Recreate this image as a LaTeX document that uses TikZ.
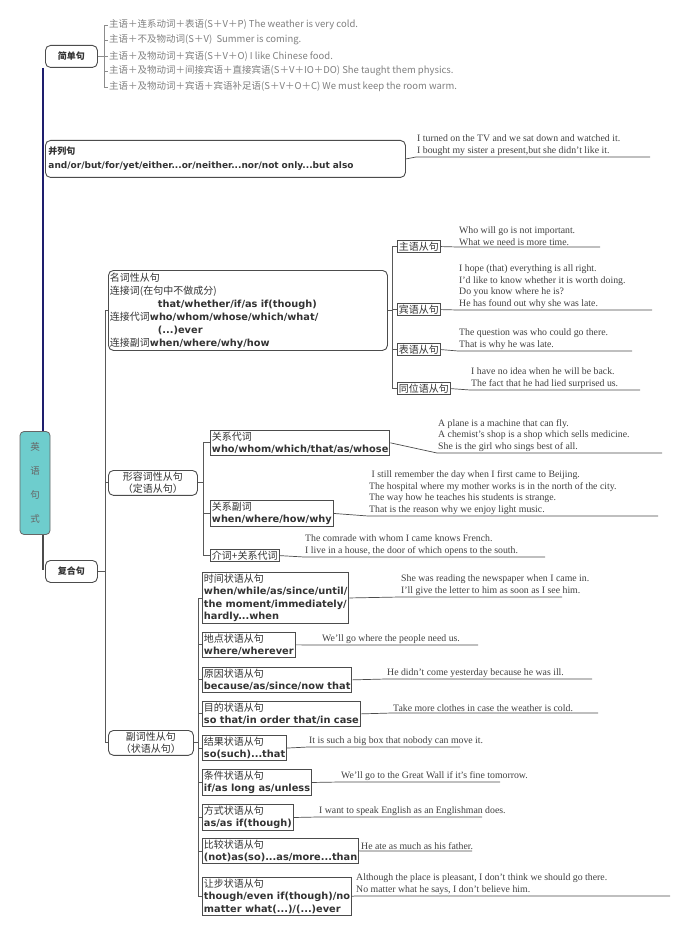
\documentclass[tikz,border=0pt]{standalone}
\usepackage{fontspec}
\setmainfont{Liberation Serif}
\setsansfont{DejaVu Sans}
\newfontfamily\cjk{Noto Sans CJK SC}
\begin{document}
\begin{tikzpicture}[x=1pt,y=-1pt,
  lbl/.style={font=\cjk\fontsize{10}{12.5}\selectfont, text=black!80, align=left, anchor=north west, inner sep=1.5pt},
  sq/.style={lbl, draw=black!70, line width=0.9pt},
  rd/.style={lbl, draw=black!70, line width=0.9pt, rounded corners=5pt},
  ex/.style={font=\fontsize{9.8}{11.8}\selectfont, text=black!75, align=left, anchor=south west, inner sep=1pt},
  gr/.style={font=\cjk\fontsize{9.5}{11}\selectfont, text=black!50, anchor=west, inner sep=1pt},
  ln/.style={draw=black!70, line width=0.7pt},
  sp/.style={draw=black!65, line width=0.9pt}]
\newcommand{\en}[1]{{\sffamily\bfseries\fontsize{9.8}{12.5}\selectfont #1}}
\useasboundingbox (0,0) rectangle (690,933);
\fill[white] (0,0) rectangle (690,933);
% root
\node[draw=black!60, line width=0.8pt, fill={rgb,255:red,110;green,205;blue,205}, rounded corners=4pt, minimum width=30pt, minimum height=103pt, align=center, font=\cjk\fontsize{9.5}{24}\selectfont, text=black!60] (root) at (35,483) {英\\语\\句\\式};
\coordinate (top) at (43,68);
\draw[draw={rgb,255:red,30;green,30;blue,110}, line width=1.6pt] (top) -- (top|-root.north);
\draw[draw=black!70, line width=1.2pt] (top|-root.south) -- (43,570);
% simple
\node[rd, font=\cjk\bfseries\fontsize{9}{10}\selectfont, minimum height=22pt, minimum width=52pt, align=center, anchor=north west] (jd) at (45,45) {简单句};
\node[gr] (s1) at (108,25) {主语＋连系动词＋表语(S＋V＋P) The weather is very cold.};
\node[gr] (s2) at (108,40) {主语＋不及物动词(S＋V)\ \ Summer is coming.};
\node[gr] (s3) at (108,56) {主语＋及物动词＋宾语(S＋V＋O) I like Chinese food.};
\node[gr] (s4) at (108,71) {主语＋及物动词＋间接宾语＋直接宾语(S＋V＋IO＋DO) She taught them physics.};
\node[gr] (s5) at (108,87) {主语＋及物动词＋宾语＋宾语补足语(S＋V＋O＋C) We must keep the room warm.};
\foreach \s in {s1,s2,s3,s4,s5} \draw[draw=black!45] (jd.east) -- ++(6,0) |- (\s.west);
% compound
\node[rd, minimum width=360pt, minimum height=37pt, text width=354pt, font=\sffamily\bfseries\fontsize{9}{14}\selectfont] (bl) at (45,140) {{\cjk 并列句}\\and/or/but/for/yet/either...or/neither...nor/not only...but also};
\node[ex] (bl1) at (416,157) {I turned on the TV and we sat down and watched it.\\I bought my sister a present,but she didn't like it.};
\coordinate (bl1e) at (650,157);
\draw[ln] (bl.east) -- (bl1.south west) -- (bl1e);
% complex
\node[rd, font=\cjk\bfseries\fontsize{9}{10}\selectfont, minimum height=22pt, minimum width=52pt, align=center] (fh) at (45,560) {复合句};
\node[rd, text width=276pt, minimum height=80pt, font=\cjk\fontsize{10}{13}\selectfont] (mc) at (108,270) {名词性从句\\连接词(在句中不做成分)\\\hspace*{48pt}\en{that/whether/if/as if(though)}\\连接代词\en{who/whom/whose/which/what/}\\\hspace*{48pt}\en{(...)ever}\\连接副词\en{when/where/why/how}};
\node[rd, text width=86pt, align=center] (xr) at (108,470) {形容词性从句\\（定语从句）};
\node[rd, text width=82pt, align=center] (fc) at (108,730) {副词性从句\\（状语从句）};
\foreach \n in {mc,xr,fc} \draw[sp] (fh.east) -- ++(8,0) |- (\n.west);
% noun clauses
\node[sq] (zy) at (397,240) {主语从句};
\node[sq] (by) at (397,303) {宾语从句};
\node[sq] (bi) at (397,343) {表语从句};
\node[sq] (tw) at (397,382) {同位语从句};
\foreach \n in {zy,by,bi,tw} \draw[sp] (mc.east) -- ++(5,0) |- (\n.west);
\node[ex] (e1) at (458,247) {Who will go is not important.\\What we need is more time.};
\node[ex] (e2) at (458,310) {I hope (that) everything is all right.\\I'd like to know whether it is worth doing.\\Do you know where he is?\\He has found out why she was late.};
\node[ex] (e3) at (458,351) {The question was who could go there.\\That is why he was late.};
\node[ex] (e4) at (470,390) {I have no idea when he will be back.\\The fact that he had lied surprised us.};
\coordinate (e1e) at (600,247); \coordinate (e2e) at (652,310);
\coordinate (e3e) at (632,351); \coordinate (e4e) at (640,390);
\draw[ln] (zy.east) -- (e1.south west) -- (e1e);
\draw[ln] (by.east) -- (e2.south west) -- (e2e);
\draw[ln] (bi.east) -- (e3.south west) -- (e3e);
\draw[ln] (tw.east) -- (e4.south west) -- (e4e);
% adjective clauses
\node[sq] (gd) at (210,430) {关系代词\\\en{who/whom/which/that/as/whose}};
\node[sq] (gf) at (210,500) {关系副词\\\en{when/where/how/why}};
\node[sq] (jc) at (210,549) {介词+关系代词};
\foreach \n in {gd,gf,jc} \draw[sp] (xr.east) -- ++(6,0) |- (\n.west);
\node[ex] (a1) at (437,453) {A plane is a machine that can fly.\\A chemist's shop is a shop which sells medicine.\\She is the girl who sings best of all.};
\node[ex] (a2) at (368,516) {\ I still remember the day when I first came to Beijing.\\The hospital where my mother works is in the north of the city.\\The way how he teaches his students is strange.\\That is the reason why we enjoy light music.};
\node[ex] (a3) at (304,557) {The comrade with whom I came knows French.\\I live in a house, the door of which opens to the south.};
\coordinate (a1e) at (662,453); \coordinate (a2e) at (658,516); \coordinate (a3e) at (545,557);
\draw[ln] (gd.east) -- (a1.south west) -- (a1e);
\draw[ln] (gf.east) -- (a2.south west) -- (a2e);
\draw[ln] (jc.east) -- (a3.south west) -- (a3e);
% adverbial clauses
\node[sq] (d1) at (202,572) {时间状语从句\\\en{when/while/as/since/until/}\\\en{the moment/immediately/}\\\en{hardly...when}};
\node[sq] (d2) at (202,632) {地点状语从句\\\en{where/wherever}};
\node[sq] (d3) at (202,667) {原因状语从句\\\en{because/as/since/now that}};
\node[sq] (d4) at (202,701) {目的状语从句\\\en{so that/in order that/in case}};
\node[sq] (d5) at (202,735) {结果状语从句\\\en{so(such)...that}};
\node[sq] (d6) at (202,769) {条件状语从句\\\en{if/as long as/unless}};
\node[sq] (d7) at (202,804) {方式状语从句\\\en{as/as if(though)}};
\node[sq] (d8) at (202,838) {比较状语从句\\\en{(not)as(so)...as/more...than}};
\node[sq] (d9) at (202,877) {让步状语从句\\\en{though/even if(though)/no}\\\en{matter what(...)/(...)ever}};
\foreach \n in {d1,d2,d3,d4,d5,d6,d7,d8,d9} \draw[sp] (fc.east) -- ++(5,0) |- (\n.west);
\node[ex] (f1) at (400,597) {She was reading the newspaper when I came in.\\I'll give the letter to him as soon as I see him.};
\node[ex] (f2) at (321,645) {We'll go where the people need us.};
\node[ex] (f3) at (386,679) {He didn't come yesterday because he was ill.};
\node[ex] (f4) at (392,713) {Take more clothes in case the weather is cold.};
\node[ex] (f5) at (308,747) {It is such a big box that nobody can move it.};
\node[ex] (f6) at (340,782) {We'll go to the Great Wall if it's fine tomorrow.};
\node[ex] (f7) at (318,817) {I want to speak English as an Englishman does.};
\node[ex] (f8) at (360,851) {He ate as much as his father.};
\node[ex] (f9) at (355,896) {Although the place is pleasant, I don't think we should go there.\\No matter what he says, I don't believe him.};
\coordinate (f1e) at (562,597); \coordinate (f2e) at (478,645); \coordinate (f3e) at (592,679);
\coordinate (f4e) at (598,713); \coordinate (f5e) at (460,747); \coordinate (f6e) at (500,782);
\coordinate (f7e) at (482,817); \coordinate (f8e) at (472,851); \coordinate (f9e) at (670,896);
\foreach \i in {1,...,9} \draw[ln] (d\i.east) -- (f\i.south west) -- (f\i e);
\end{tikzpicture}
\end{document}
